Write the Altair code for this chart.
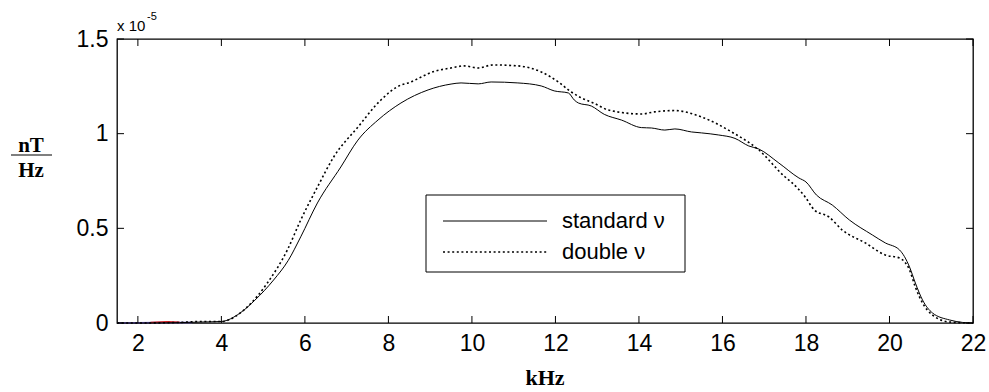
import altair as alt
import pandas as pd

# ---- data (kHz, value in units of 1e-5 nT/Hz) ----
std_khz = [1.5, 2.0, 3.0, 3.5, 4.0, 4.45, 4.8, 5.25, 5.6, 5.9, 6.3, 6.86, 7.27, 7.75, 8.3, 8.95,
           9.5, 9.74, 10.15, 10.46, 11.1, 11.66, 11.97, 12.31, 12.45, 12.55, 12.86, 13.17, 13.58,
           14.06, 14.3, 14.62, 14.86, 15.26, 15.5, 15.91, 16.3, 16.63, 16.87, 17.35, 17.83, 18.0,
           18.25, 18.63, 19.04, 19.59, 19.9, 20.24, 20.48, 20.62, 20.79, 21.03, 21.44, 21.75, 22.0]
std_val = [0.0, 0.0, 0.002, 0.005, 0.008, 0.053, 0.12, 0.227, 0.33, 0.455, 0.634, 0.824, 0.966,
           1.072, 1.162, 1.231, 1.262, 1.268, 1.263, 1.273, 1.268, 1.252, 1.226, 1.215, 1.178,
           1.162, 1.146, 1.102, 1.072, 1.032, 1.030, 1.019, 1.025, 1.009, 1.004, 0.993, 0.975,
           0.935, 0.919, 0.845, 0.766, 0.745, 0.676, 0.623, 0.544, 0.465, 0.423, 0.386, 0.296,
           0.211, 0.122, 0.053, 0.016, 0.003, 0.0]

dbl_khz = [1.5, 2.0, 3.0, 3.5, 4.0, 4.62, 5.1, 5.58, 5.9, 6.3, 6.69, 7.27, 7.82, 8.3, 8.47, 9.1,
           9.5, 9.81, 10.15, 10.5, 11.1, 11.66, 12.07, 12.38, 12.62, 12.93, 13.27, 14.06, 14.37,
           14.86, 15.5, 16.22, 16.87, 17.5, 17.67, 17.98, 18.2, 18.55, 18.87, 19.42, 19.9, 20.24,
           20.48, 20.62, 20.79, 21.03, 21.44, 22.0]
dbl_val = [0.0, 0.0, 0.003, 0.008, 0.008, 0.085, 0.211, 0.386, 0.544, 0.718, 0.877, 1.035, 1.178,
           1.257, 1.268, 1.329, 1.347, 1.358, 1.347, 1.363, 1.358, 1.326, 1.273, 1.22, 1.189,
           1.16, 1.125, 1.104, 1.115, 1.122, 1.088, 1.009, 0.914, 0.771, 0.74, 0.666, 0.597,
           0.56, 0.491, 0.423, 0.359, 0.343, 0.28, 0.19, 0.106, 0.042, 0.005, 0.0]

blue_khz = [1.5, 2.5, 3.3]
blue_val = [0.0, 0.002, 0.003]
red_khz = [2.3, 2.7, 3.0]
red_val = [0.003, 0.006, 0.004]

x_ticks = [2, 4, 6, 8, 10, 12, 14, 16, 18, 20, 22]
y_ticks = [0, 0.5, 1, 1.5]
legend_labels = ["standard \u03bd", "double \u03bd"]
x_title = "kHz"
y_title_top = "nT"
y_title_bottom = "Hz"
exp_base = "x 10"
exp_power = "-5"

W, H = 856, 284
FONT = "Liberation Sans"
SERIF = "Liberation Serif"

xs = alt.Scale(domain=[1.5, 22], nice=False, zero=False)
ys = alt.Scale(domain=[0, 1.5], nice=False, zero=False)

std_df = pd.DataFrame({"k": std_khz, "v": std_val})
dbl_df = pd.DataFrame({"k": dbl_khz, "v": dbl_val})
blue_df = pd.DataFrame({"k": blue_khz, "v": blue_val})
red_df = pd.DataFrame({"k": red_khz, "v": red_val})

xaxis = alt.Axis(values=x_ticks, title=None, ticks=False, domain=False, grid=False,
                 labelFontSize=23, labelFont=FONT, labelColor="black",
                 labelBaseline="alphabetic", labelPadding=27, labelFlush=False)
yaxis = alt.Axis(values=y_ticks, title=None, ticks=False, domain=False, grid=False,
                 labelFontSize=23, labelFont=FONT, labelColor="black", format="~g",
                 labelPadding=9, labelBaseline="middle", labelFlush=False)

blue = alt.Chart(blue_df).mark_line(color="#6a5acd", strokeWidth=1.5).encode(
    x=alt.X("k:Q", scale=xs, axis=xaxis), y=alt.Y("v:Q", scale=ys, axis=yaxis))
red = alt.Chart(red_df).mark_line(color="#d42020", strokeWidth=1.5).encode(
    x=alt.X("k:Q", scale=xs), y=alt.Y("v:Q", scale=ys))
std = alt.Chart(std_df).mark_line(color="black", strokeWidth=1, interpolate="monotone").encode(
    x=alt.X("k:Q", scale=xs), y=alt.Y("v:Q", scale=ys))
dbl = alt.Chart(dbl_df).mark_line(color="black", strokeWidth=1.6, strokeDash=[2, 2.6],
                                  interpolate="monotone").encode(
    x=alt.X("k:Q", scale=xs), y=alt.Y("v:Q", scale=ys))

xt_df = pd.DataFrame({"k": x_ticks})
yt_df = pd.DataFrame({"v": y_ticks})
tick_bottom = alt.Chart(xt_df).mark_rule(color="black", strokeWidth=1).encode(
    x=alt.X("k:Q", scale=xs), y=alt.value(H), y2=alt.value(H - 7))
tick_top = alt.Chart(xt_df).mark_rule(color="black", strokeWidth=1).encode(
    x=alt.X("k:Q", scale=xs), y=alt.value(0), y2=alt.value(7))
tick_left = alt.Chart(yt_df).mark_rule(color="black", strokeWidth=1).encode(
    y=alt.Y("v:Q", scale=ys), x=alt.value(0), x2=alt.value(7))
tick_right = alt.Chart(yt_df).mark_rule(color="black", strokeWidth=1).encode(
    y=alt.Y("v:Q", scale=ys), x=alt.value(W), x2=alt.value(W - 7))

one = alt.Data(values=[{}])

# legend box
leg_box = alt.Chart(one).mark_rect(fill="white", stroke="black", strokeWidth=1).encode(
    x=alt.value(309), x2=alt.value(568), y=alt.value(156), y2=alt.value(233))
leg_line1 = alt.Chart(one).mark_rule(color="black", strokeWidth=1).encode(
    x=alt.value(326), x2=alt.value(430), y=alt.value(182))
leg_line2 = alt.Chart(one).mark_rule(color="black", strokeWidth=1.6, strokeDash=[2, 2.6]).encode(
    x=alt.value(326), x2=alt.value(430), y=alt.value(213))
leg_df = pd.DataFrame({"lab": legend_labels, "yy": [182, 213]})
leg_text = alt.Chart(leg_df).mark_text(align="left", baseline="middle", font=FONT,
                                       fontSize=22, color="black").encode(
    x=alt.value(445), y=alt.Y("yy:Q", scale=None), text="lab:N")

# titles
t_x = alt.Chart(one).mark_text(text=x_title, font=SERIF, fontWeight="bold", fontSize=22,
                               align="center", baseline="alphabetic", color="black").encode(
    x=alt.value(W / 2), y=alt.value(H + 62))
t_y1 = alt.Chart(one).mark_text(text=y_title_top, font=SERIF, fontWeight="bold", fontSize=21,
                                align="center", baseline="alphabetic", color="black").encode(
    x=alt.value(-86), y=alt.value(113))
t_ybar = alt.Chart(one).mark_rule(color="black", strokeWidth=1.2).encode(
    x=alt.value(-106), x2=alt.value(-65), y=alt.value(116))
t_y2 = alt.Chart(one).mark_text(text=y_title_bottom, font=SERIF, fontWeight="bold", fontSize=21,
                                align="center", baseline="alphabetic", color="black").encode(
    x=alt.value(-86), y=alt.value(138))
t_e1 = alt.Chart(one).mark_text(text=exp_base, font=FONT, fontSize=15, align="left",
                                baseline="alphabetic", color="black").encode(
    x=alt.value(0), y=alt.value(-8))
t_e2 = alt.Chart(one).mark_text(text=exp_power, font=FONT, fontSize=11, align="left",
                                baseline="alphabetic", color="black").encode(
    x=alt.value(30), y=alt.value(-19))

chart = alt.layer(
    blue, red, std, dbl,
    tick_bottom, tick_top, tick_left, tick_right,
    leg_box, leg_line1, leg_line2, leg_text,
    t_x, t_y1, t_ybar, t_y2, t_e1, t_e2,
).properties(
    width=W, height=H,
    autosize=alt.AutoSizeParams(type="none"),
    padding={"left": 117, "top": 39, "right": 16, "bottom": 69},
    background="white",
).configure_view(stroke="black", strokeWidth=1.3)

chart.save("out.html", embed_options={"renderer": "svg", "actions": False})
